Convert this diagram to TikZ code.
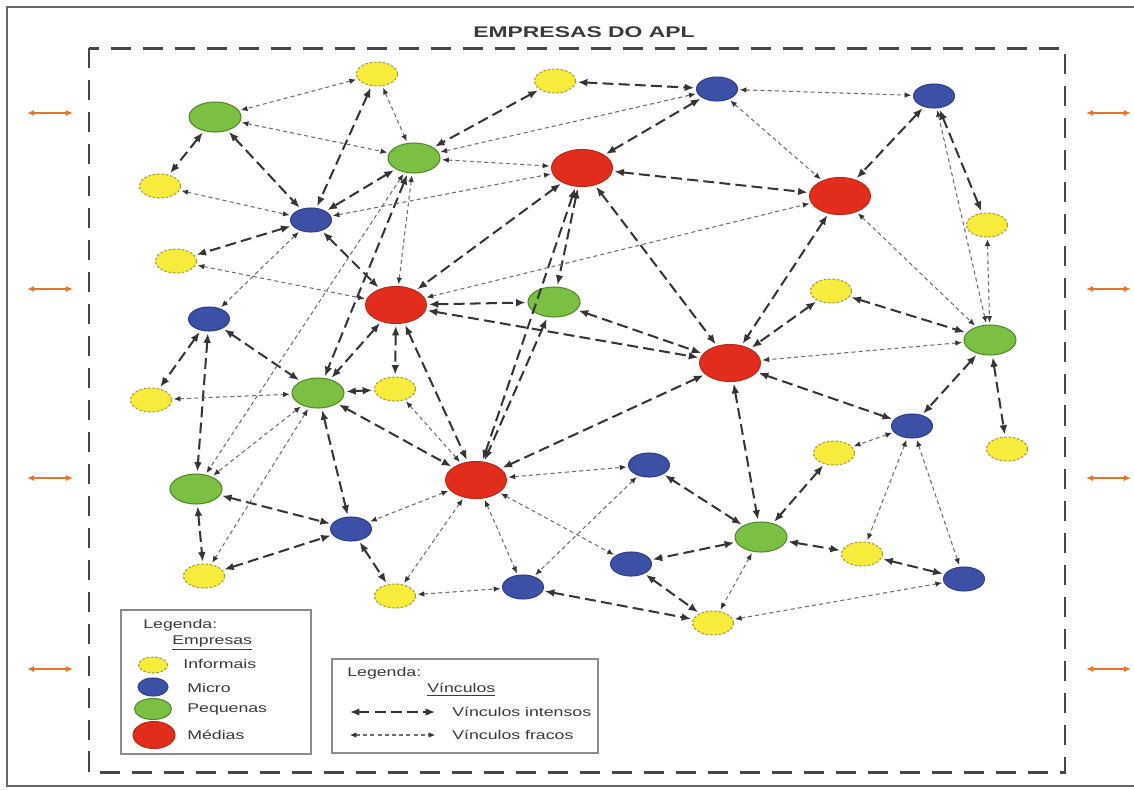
\documentclass[tikz,border=0pt]{standalone}
\usepackage{fontspec}
\usepackage{graphicx}
\setmainfont{Liberation Sans}
\usetikzlibrary{arrows.meta,shapes.geometric}
\definecolor{cyel}{HTML}{F7EC3B}
\definecolor{cyelb}{HTML}{A89A3A}
\definecolor{cblue}{HTML}{3C50A5}
\definecolor{cblueb}{HTML}{2E3F8A}
\definecolor{cgreen}{HTML}{7BC043}
\definecolor{cgreenb}{HTML}{4F8A2A}
\definecolor{cred}{HTML}{E32D1C}
\definecolor{credb}{HTML}{B82A1A}
\definecolor{corange}{HTML}{E8742A}
\definecolor{ctext}{HTML}{3A3A3A}
\definecolor{cstrong}{HTML}{353535}
\definecolor{cweak}{HTML}{6E6E6E}
\begin{document}
\begin{tikzpicture}[x=0.02cm,y=-0.02cm,
  firm/.style={ellipse,inner sep=0pt,line width=0.6pt},
  inf/.style={firm,fill=cyel,draw=cyelb,dash pattern=on 1.5pt off 1pt,minimum width=0.82cm,minimum height=0.48cm},
  mic/.style={firm,fill=cblue,draw=cblueb,minimum width=0.82cm,minimum height=0.48cm},
  peq/.style={firm,fill=cgreen,draw=cgreenb,minimum width=1.04cm,minimum height=0.6cm},
  med/.style={firm,fill=cred,draw=credb,minimum width=1.22cm,minimum height=0.74cm},
  strong/.style={draw=cstrong,line width=1.15pt,dash pattern=on 6.2pt off 3pt,
    {Latex[length=5.5pt,width=4.4pt]}-{Latex[length=5.5pt,width=4.4pt]},shorten >=1pt,shorten <=1pt},
  weak/.style={draw=cweak,line width=0.6pt,dash pattern=on 2.3pt off 1.8pt,
    {Latex[length=3.8pt,width=3.2pt,color=cstrong]}-{Latex[length=3.8pt,width=3.2pt,color=cstrong]},shorten >=1pt,shorten <=1pt},
  frame/.style={draw=black!72,line width=1.7pt,dash pattern=on 11.4pt off 6.8pt},
  orangearr/.style={draw=corange,line width=1.1pt,{Latex[length=4pt,width=3.5pt]}-{Latex[length=4pt,width=3.5pt]}},
  lbox/.style={draw=black!45,line width=0.8pt},
  txt/.style={text=ctext,font=\fontsize{7.2}{8.6}\selectfont,inner sep=0pt,anchor=west}
]
\useasboundingbox (0,0) rectangle (1134,789);
\fill[white] (0,0) rectangle (1134,789);
% image border
\draw[black!60,line width=0.9pt] (1134,7) -- (7,7) -- (7,786) -- (1134,786);

% title and frame
\node[text=ctext,inner sep=0pt] (title) at (584,32)
  {\scalebox{1.48}[1]{\fontsize{8.8}{10}\selectfont\bfseries EMPRESAS DO APL}};
\draw[frame] (89,48) rectangle (1065,772);

% orange arrows
\foreach \yy/\i in {113/1,289/2,478/3,669/4}{
  \coordinate (la\i) at (27,\yy); \coordinate (lb\i) at (73,\yy);
  \coordinate (ra\i) at (1086,\yy); \coordinate (rb\i) at (1131,\yy);
  \draw[orangearr] (la\i) -- (lb\i);
  \draw[orangearr] (ra\i) -- (rb\i);
}

% firms
\node[inf] (Y1) at (377,74) {};
\node[inf] (Y2) at (555,81) {};
\node[mic] (B1) at (717,89) {};
\node[mic] (B2) at (934,96) {};
\node[peq] (G1) at (215,117) {};
\node[peq] (G2) at (414,158) {};
\node[med] (R1) at (582,168) {};
\node[med] (R2) at (840,196) {};
\node[inf] (Y3) at (160,186) {};
\node[mic] (B3) at (311,220) {};
\node[inf] (Y4) at (987,225) {};
\node[inf] (Y5) at (176,261) {};
\node[med] (R3) at (396,305) {};
\node[peq] (G3) at (554,302) {};
\node[inf] (Y6) at (831,291) {};
\node[mic] (B4) at (209,319) {};
\node[peq] (G4) at (990,340) {};
\node[med] (R4) at (730,363) {};
\node[peq] (G5) at (318,393) {};
\node[inf] (Y7) at (395,389) {};
\node[inf] (Y8) at (151,400) {};
\node[mic] (B5) at (912,426) {};
\node[inf] (Y9) at (834,453) {};
\node[inf] (Y10) at (1007,449) {};
\node[med] (R5) at (476,480) {};
\node[mic] (B6) at (649,465) {};
\node[peq] (G6) at (196,489) {};
\node[mic] (B7) at (351,529) {};
\node[peq] (G7) at (761,537) {};
\node[inf] (Y11) at (862,554) {};
\node[mic] (B8) at (631,564) {};
\node[mic] (B9) at (964,579) {};
\node[inf] (Y12) at (204,576) {};
\node[inf] (Y13) at (395,596) {};
\node[mic] (B10) at (523,587) {};
\node[inf] (Y14) at (713,623) {};

% intense links
\foreach \a/\b in {Y1/B3,Y2/G2,Y2/B1,G1/Y3,G1/B3,G2/B3,G2/G5,B3/Y5,B3/R3,B1/R1,B2/R2,B2/Y4,
  R1/R2,R1/R3,R1/G3,R1/R5,R1/R4,R2/R4,R3/G3,R3/R4,R3/G5,R3/Y7,R3/R5,G3/R4,G3/R5,Y6/R4,Y6/G4,
  G4/B5,G4/Y10,R4/B5,R4/G7,R4/R5,Y9/G7,G7/Y11,Y11/B9,G7/B6,G7/B8,B8/Y14,B10/Y14,B4/G5,B4/Y8,
  B4/G6,G5/Y7,G5/R5,G5/B7,G6/B7,G6/Y12,Y12/B7,B7/Y13}
  \draw[strong] (\a) -- (\b);

% weak links
\foreach \a/\b in {Y1/G1,Y1/G2,G1/G2,Y3/B3,Y5/R3,B3/B4,B3/R1,G2/R1,G2/B1,G2/R3,G2/G6,B1/B2,
  B1/R2,R3/R2,B2/G4,R2/G4,Y4/G4,G4/R4,B5/Y9,B5/Y11,B5/B9,Y14/B9,G7/Y14,R5/B6,R5/B10,R5/B8,
  R5/B7,R5/Y13,R5/Y7,B6/B10,Y13/B10,Y8/G5,G5/G6,G5/Y12}
  \draw[weak] (\a) -- (\b);

% legend: firms
\draw[lbox] (121,610) rectangle (311,754);
\node[txt] (lg1) at (143,625) {\scalebox{1.4}[1]{Legenda:}};
\node[txt] (lg1e) at (172,643) {\scalebox{1.4}[1]{\underline{Empresas}}};
\node[firm,fill=cyel,draw=cyelb,dash pattern=on 1.5pt off 1pt,minimum width=0.58cm,minimum height=0.32cm] (kY) at (153,665) {};
\node[firm,fill=cblue,draw=cblueb,minimum width=0.6cm,minimum height=0.36cm] (kB) at (153,687) {};
\node[firm,fill=cgreen,draw=cgreenb,minimum width=0.74cm,minimum height=0.42cm] (kG) at (153,709) {};
\node[firm,fill=cred,draw=credb,minimum width=0.84cm,minimum height=0.54cm] (kR) at (154,735) {};
\node[txt] (tY) at (183,664) {\scalebox{1.4}[1]{Informais}};
\node[txt] (tB) at (187,688) {\scalebox{1.4}[1]{Micro}};
\node[txt] (tG) at (187,709) {\scalebox{1.4}[1]{Pequenas}};
\node[txt] (tR) at (187,735) {\scalebox{1.4}[1]{Médias}};

% legend: links
\draw[lbox] (332,659) rectangle (598,753);
\node[txt] (lg2) at (347,673) {\scalebox{1.4}[1]{Legenda:}};
\node[txt] (lg2v) at (427,690) {\scalebox{1.4}[1]{\underline{Vínculos}}};
\coordinate (ki1) at (348,712); \coordinate (ki2) at (437,712);
\coordinate (kw1) at (348,735); \coordinate (kw2) at (437,735);
\draw[strong] (ki1) -- (ki2);
\draw[weak] (kw1) -- (kw2);
\node[txt] (ti) at (452,712) {\scalebox{1.4}[1]{Vínculos intensos}};
\node[txt] (tw) at (452,735) {\scalebox{1.4}[1]{Vínculos fracos}};
\end{tikzpicture}
\end{document}
